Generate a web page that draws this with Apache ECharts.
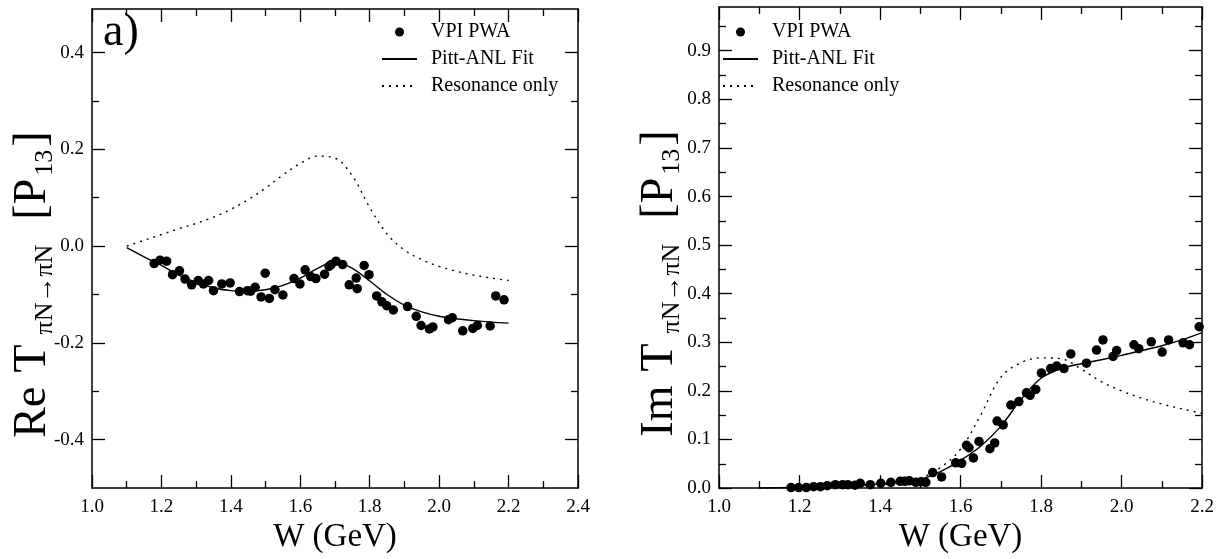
<!DOCTYPE html>
<html>
<head>
<meta charset="utf-8">
<script src="https://cdn.jsdelivr.net/npm/echarts@6/dist/echarts.min.js"></script>
<style>html,body{margin:0;padding:0;background:#fff;}#c{width:1226px;height:559px;}</style>
</head>
<body>
<div id="c"></div>
<script>
// ---------- data ----------
// Left panel: Re T (P13), VPI PWA points
const reW = [1.179,1.196,1.215,1.232,1.252,1.268,1.287,1.306,1.321,1.336,1.350,1.374,1.398,1.425,1.448,1.457,1.470,1.487,1.499,1.511,1.527,1.550,1.582,1.599,1.614,1.630,1.645,1.670,1.683,1.689,1.703,1.722,1.741,1.761,1.764,1.784,1.798,1.820,1.835,1.849,1.868,1.909,1.934,1.948,1.972,1.982,2.027,2.038,2.068,2.097,2.110,2.147,2.163,2.187];
const reVal = [-0.036,-0.029,-0.031,-0.059,-0.051,-0.068,-0.080,-0.071,-0.078,-0.071,-0.092,-0.078,-0.076,-0.094,-0.092,-0.093,-0.085,-0.105,-0.056,-0.108,-0.090,-0.101,-0.067,-0.078,-0.049,-0.063,-0.067,-0.058,-0.042,-0.038,-0.031,-0.038,-0.080,-0.066,-0.088,-0.040,-0.059,-0.103,-0.115,-0.123,-0.132,-0.125,-0.145,-0.164,-0.171,-0.167,-0.152,-0.148,-0.175,-0.170,-0.164,-0.165,-0.103,-0.111];
// Curves (W grid shared by both panels)
const curveW = [1.10,1.15,1.20,1.25,1.30,1.35,1.40,1.45,1.50,1.55,1.60,1.65,1.70,1.75,1.80,1.85,1.90,1.95,2.00,2.05,2.10,2.15,2.20];
const fitRe = [-0.003,-0.022,-0.040,-0.060,-0.075,-0.086,-0.092,-0.093,-0.090,-0.081,-0.066,-0.046,-0.032,-0.046,-0.072,-0.100,-0.122,-0.136,-0.145,-0.150,-0.154,-0.157,-0.159];
const resRe = [0.000,0.012,0.024,0.036,0.047,0.060,0.076,0.096,0.120,0.147,0.171,0.186,0.182,0.145,0.080,0.025,-0.008,-0.028,-0.042,-0.052,-0.060,-0.066,-0.071];
// Right panel: Im T (P13), VPI PWA points
const imW = [1.179,1.198,1.217,1.235,1.252,1.269,1.289,1.307,1.320,1.338,1.351,1.376,1.402,1.427,1.450,1.462,1.473,1.489,1.502,1.514,1.531,1.553,1.588,1.603,1.615,1.621,1.632,1.646,1.673,1.685,1.691,1.706,1.725,1.745,1.764,1.773,1.787,1.801,1.824,1.839,1.857,1.874,1.913,1.938,1.954,1.979,1.988,2.031,2.043,2.074,2.101,2.117,2.153,2.169,2.193];
const imVal = [0.001,0.001,0.001,0.003,0.003,0.005,0.007,0.007,0.007,0.006,0.010,0.007,0.010,0.012,0.014,0.014,0.015,0.012,0.013,0.012,0.032,0.023,0.052,0.051,0.088,0.083,0.062,0.096,0.081,0.093,0.138,0.130,0.171,0.178,0.196,0.191,0.203,0.237,0.246,0.251,0.246,0.276,0.257,0.284,0.305,0.271,0.283,0.295,0.287,0.301,0.280,0.305,0.299,0.295,0.332];
const fitIm = [0.000,0.001,0.002,0.003,0.005,0.007,0.009,0.012,0.018,0.034,0.057,0.086,0.127,0.182,0.226,0.246,0.256,0.264,0.273,0.283,0.293,0.305,0.320];
const resIm = [0.000,0.000,0.001,0.002,0.003,0.005,0.007,0.012,0.021,0.042,0.080,0.150,0.228,0.258,0.268,0.266,0.245,0.219,0.200,0.185,0.173,0.163,0.154];
// Tick values
const leftXMajor = [1.0,1.2,1.4,1.6,1.8,2.0,2.2,2.4];
const leftXMinor = [1.1,1.3,1.5,1.7,1.9,2.1,2.3];
const leftYMajor = [-0.4,-0.2,0.0,0.2,0.4];
const leftYMinor = [-0.3,-0.1,0.1,0.3];
const rightXMajor = [1.0,1.2,1.4,1.6,1.8,2.0,2.2];
const rightXMinor = [1.1,1.3,1.5,1.7,1.9,2.1];
const rightYMajor = [0.0,0.1,0.2,0.3,0.4,0.5,0.6,0.7,0.8,0.9];
const rightYMinor = [0.05,0.15,0.25,0.35,0.45,0.55,0.65,0.75,0.85,0.95];
const seriesNames = ['VPI PWA','Pitt-ANL Fit','Resonance only'];

// ---------- chart ----------
const FONT = '"Liberation Serif","DejaVu Serif",serif';
const zip = (a,b) => a.map((v,i)=>[v,b[i]]);
const MAJ = 13, MIN = 7;

function axis(dim, gi, pos, min, max, ticks, len, labels, lineShow, extra) {
  const o = {
    type:'value', gridIndex:gi, position:pos, min:min, max:max,
    axisLine:{show:lineShow, onZero:false, lineStyle:{color:'#000', width:1.5}},
    axisTick:{show:true, inside:true, length:len, customValues:ticks, lineStyle:{color:'#000', width:1.3}},
    splitLine:{show:false},
    axisLabel: labels ? {show:true, customValues:labels, color:'#000', fontFamily:FONT, fontSize:19,
        margin: dim==='x' ? 9 : 8, formatter:(v)=>Number(v).toFixed(1)} : {show:false}
  };
  return Object.assign(o, extra||{});
}
const xName = {name:'W (GeV)', nameLocation:'middle', nameGap:26,
  nameTextStyle:{color:'#000', fontFamily:FONT, fontSize:33}};
function yName(prefix, gap) {
  return {
    name:'{m|' + prefix + '}{t|T}{s|πN→πN}{b|[P}{n|13}{m|]}',
    nameLocation:'middle', nameGap:gap, nameMoveOverlap:false,
    nameTextStyle:{color:'#000', fontFamily:FONT, fontSize:46, padding:[0,72,0,0],
      rich:{
        m:{fontFamily:FONT, fontSize:46, color:'#000'},
        t:{fontFamily:FONT, fontSize:46, color:'#000', padding:[0,0,0,14]},
        b:{fontFamily:FONT, fontSize:46, color:'#000', padding:[0,0,0,22]},
        s:{fontFamily:FONT, fontSize:26, color:'#000', padding:[24,3,0,10]},
        n:{fontFamily:FONT, fontSize:26, color:'#000', padding:[24,3,0,3]}
      }}
  };
}

const xAxes = [
  axis('x',0,'bottom',1.0,2.4,leftXMajor,MAJ,leftXMajor,true,xName),
  axis('x',0,'bottom',1.0,2.4,leftXMinor,MIN,null,false),
  axis('x',0,'top',1.0,2.4,leftXMajor,MAJ,null,true),
  axis('x',0,'top',1.0,2.4,leftXMinor,MIN,null,false),
  axis('x',1,'bottom',1.0,2.2,rightXMajor,MAJ,rightXMajor,true,xName),
  axis('x',1,'bottom',1.0,2.2,rightXMinor,MIN,null,false),
  axis('x',1,'top',1.0,2.2,rightXMajor,MAJ,null,true),
  axis('x',1,'top',1.0,2.2,rightXMinor,MIN,null,false)
];
const yAxes = [
  axis('y',0,'left',-0.5,0.49,leftYMajor,MAJ,leftYMajor,true,yName('Re',34)),
  axis('y',0,'left',-0.5,0.49,leftYMinor,MIN,null,false),
  axis('y',0,'right',-0.5,0.49,leftYMajor,MAJ,null,true),
  axis('y',0,'right',-0.5,0.49,leftYMinor,MIN,null,false),
  axis('y',1,'left',0,0.99,rightYMajor,MAJ,rightYMajor,true,yName('Im',34)),
  axis('y',1,'left',0,0.99,rightYMinor,MIN,null,false),
  axis('y',1,'right',0,0.99,rightYMajor,MAJ,null,true),
  axis('y',1,'right',0,0.99,rightYMinor,MIN,null,false)
];

function panelSeries(xi, yi, pts, fit, res) {
  return [
    {name:seriesNames[0], type:'scatter', xAxisIndex:xi, yAxisIndex:yi, data:pts,
     symbol:'circle', symbolSize:9.5, itemStyle:{color:'#000', opacity:1}, silent:true},
    {name:seriesNames[1], type:'line', xAxisIndex:xi, yAxisIndex:yi, data:fit,
     showSymbol:false, symbol:'none', smooth:0.35, lineStyle:{color:'#000', width:1.4}, itemStyle:{color:'#000'}},
    {name:seriesNames[2], type:'line', xAxisIndex:xi, yAxisIndex:yi, data:res,
     showSymbol:false, symbol:'none', smooth:0.35, lineStyle:{color:'#000', width:1.4, type:[2,5]}, itemStyle:{color:'#000'}}
  ];
}

const legendData = [
  {name:seriesNames[0]},
  {name:seriesNames[1], itemStyle:{color:'rgba(0,0,0,0)', borderWidth:0, opacity:0}},
  {name:seriesNames[2], itemStyle:{color:'rgba(0,0,0,0)', borderWidth:0, opacity:0}}
];
const legendBase = {orient:'vertical', itemWidth:35, itemHeight:9, itemGap:7,
  textStyle:{color:'#000', fontFamily:FONT, fontSize:20, padding:[0,0,0,9]},
  selectedMode:false, data:legendData};

const option = {
  animation:false,
  backgroundColor:'#fff',
  grid:[
    {left:92, top:9, width:486, height:490, show:false},
    {left:719, top:7, width:483, height:490, show:false}
  ],
  xAxis:xAxes,
  yAxis:yAxes,
  legend:[
    Object.assign({}, legendBase, {left:376, top:17}),
    Object.assign({}, legendBase, {left:717, top:17})
  ],
  graphic:[
    {type:'text', left:103, top:10, style:{text:'a)', font:'46px ' + FONT, fill:'#000'}}
  ],
  series:[].concat(
    panelSeries(0,0,zip(reW,reVal),zip(curveW,fitRe),zip(curveW,resRe)),
    panelSeries(4,4,zip(imW,imVal),zip(curveW,fitIm),zip(curveW,resIm))
  )
};
echarts.init(document.getElementById('c'), null, {renderer:'canvas'}).setOption(option);
</script>
</body>
</html>
